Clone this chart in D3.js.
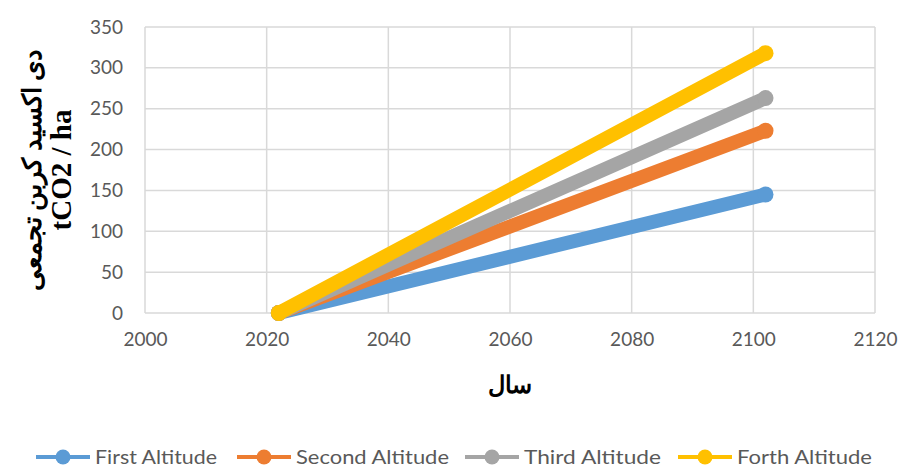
<!DOCTYPE html>
<html>
<head>
<meta charset="utf-8">
<script src="https://cdn.jsdelivr.net/npm/d3@7"></script>
<style>
  body { margin: 0; background: #fff; }
  svg { display: block; }
</style>
</head>
<body>
<svg id="chart" width="900" height="468"></svg>
<script>
// data
const years = [2022, 2102];
const firstAltitude = [0, 145];
const secondAltitude = [0, 223];
const thirdAltitude = [0, 263];
const forthAltitude = [0, 318];
const seriesNames = ["First Altitude", "Second Altitude", "Third Altitude", "Forth Altitude"];
const seriesColors = ["#5B9BD5", "#ED7D31", "#A5A5A5", "#FFC000"];
const xTicks = [2000, 2020, 2040, 2060, 2080, 2100, 2120];
const yTicks = [0, 50, 100, 150, 200, 250, 300, 350];

const allSeries = [firstAltitude, secondAltitude, thirdAltitude, forthAltitude];

const svg = d3.select("#chart");
const plotLeft = 145, plotRight = 875, plotTop = 27, plotBottom = 313;

const x = d3.scaleLinear().domain([2000, 2120]).range([plotLeft, plotRight]);
const y = d3.scaleLinear().domain([0, 350]).range([plotBottom, plotTop]);

const tickFont = "Lato, 'Open Sans', sans-serif";

// GRID
svg.append("g")
    .selectAll("line")
    .data(yTicks)
    .join("line")
    .attr("x1", plotLeft).attr("x2", plotRight)
    .attr("y1", d => y(d)).attr("y2", d => y(d))
    .style("stroke", "#D9D9D9")
    .style("stroke-width", 1.5);
svg.append("g")
    .selectAll("line")
    .data(xTicks)
    .join("line")
    .attr("x1", d => x(d)).attr("x2", d => x(d))
    .attr("y1", plotTop).attr("y2", plotBottom)
    .style("stroke", "#D9D9D9")
    .style("stroke-width", 1.5);

// AXES (labels only, Excel style)
const xAxis = svg.append("g")
    .attr("transform", `translate(0,${plotBottom})`)
    .call(d3.axisBottom(x).tickValues(xTicks).tickFormat(d3.format("d")).tickSize(0).tickPadding(20));
xAxis.select(".domain").remove();
xAxis.selectAll("text")
    .style("font-family", tickFont)
    .style("font-size", "19px")
    .style("fill", "#595959");

const yAxis = svg.append("g")
    .attr("transform", `translate(${plotLeft},0)`)
    .call(d3.axisLeft(y).tickValues(yTicks).tickSize(0).tickPadding(22));
yAxis.select(".domain").remove();
yAxis.selectAll("text")
    .style("font-family", tickFont)
    .style("font-size", "19px")
    .style("fill", "#595959");

// SERIES
const line = d3.line()
    .x((d, i) => x(years[i]))
    .y(d => y(d));

allSeries.forEach((vals, k) => {
    svg.append("path")
        .datum(vals)
        .attr("d", line)
        .style("fill", "none")
        .style("stroke", seriesColors[k])
        .style("stroke-width", 14)
        .style("stroke-linecap", "round");
    svg.append("g")
        .selectAll("circle")
        .data(vals)
        .join("circle")
        .attr("cx", (d, i) => x(years[i]))
        .attr("cy", d => y(d))
        .attr("r", 8)
        .style("fill", seriesColors[k]);
});

// AXIS TITLES
const yTitle = svg.append("text")
    .attr("transform", "translate(0,170) rotate(-90)")
    .attr("text-anchor", "middle")
    .style("font-family", "'Liberation Serif', 'DejaVu Serif', serif")
    .style("font-weight", "bold")
    .style("fill", "#000");
yTitle.append("tspan")
    .attr("x", 0).attr("y", 41)
    .style("font-size", "26px")
    .attr("direction", "rtl")
    .text("دی اکسید کربن تجمعی");
yTitle.append("tspan")
    .attr("x", 0).attr("y", 71)
    .style("font-size", "29px")
    .text("tCO2 / ha");

svg.append("text")
    .attr("x", 510).attr("y", 393)
    .attr("text-anchor", "middle")
    .style("font-family", "'Liberation Serif', 'DejaVu Serif', serif")
    .style("font-weight", "bold")
    .style("font-size", "24px")
    .text("سال");

// LEGEND
const legendX = [36, 237, 465, 678];
const legendTextWidth = [122, 153, 137, 135];
seriesNames.forEach((name, k) => {
    const g = svg.append("g").attr("transform", `translate(${legendX[k]},457)`);
    g.append("line")
        .attr("x1", 0).attr("x2", 54).attr("y1", 0).attr("y2", 0)
        .style("stroke", seriesColors[k])
        .style("stroke-width", 4);
    g.append("circle")
        .attr("cx", 27).attr("cy", 0).attr("r", 7.5)
        .style("fill", seriesColors[k]);
    g.append("text")
        .attr("x", 59).attr("y", 0)
        .attr("dy", "0.36em")
        .attr("textLength", legendTextWidth[k])
        .attr("lengthAdjust", "spacingAndGlyphs")
        .style("font-family", tickFont)
        .style("font-size", "19px")
        .style("fill", "#595959")
        .text(name);
});
</script>
</body>
</html>
